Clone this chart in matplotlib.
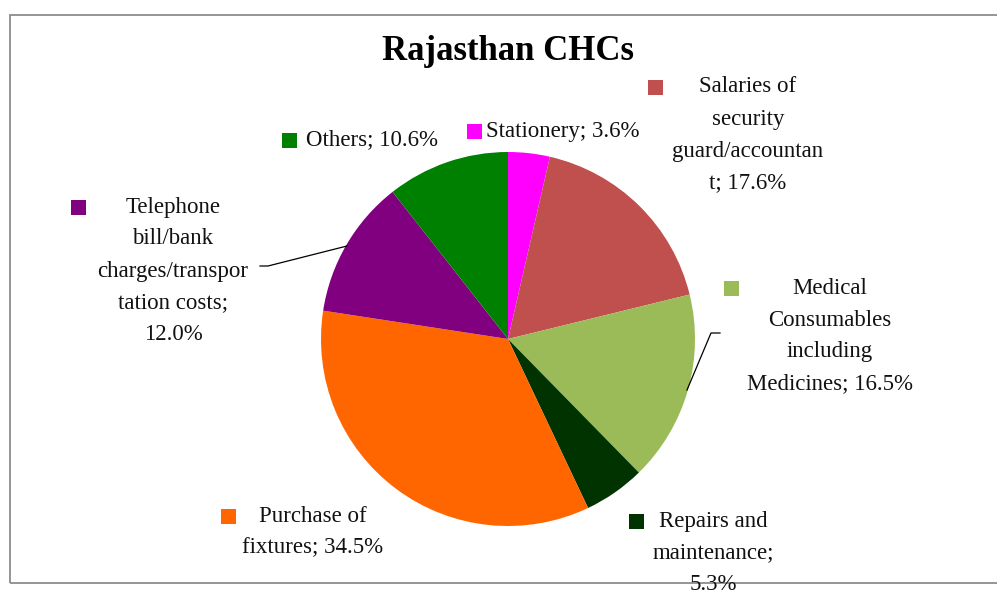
import matplotlib.pyplot as plt
from matplotlib.patches import Rectangle

categories = ["Stationery", "Salaries of security guard/accountant",
              "Medical Consumables including Medicines", "Repairs and maintenance",
              "Purchase of fixtures", "Telephone bill/bank charges/transportation costs",
              "Others"]
shares = [3.6, 17.6, 16.5, 5.3, 34.5, 12.0, 10.6]
colors = ["#FF00FF", "#C0504D", "#9BBB59", "#003300", "#FF6600", "#800080", "#008000"]

# label text as wrapped in the original, with pixel anchors (marker x, text centre x, first line y)
label_lines = [
    ["Stationery; 3.6%"],
    ["Salaries of", "security", "guard/accountan", "t; 17.6%"],
    ["Medical", "Consumables", "including", "Medicines; 16.5%"],
    ["Repairs and", "maintenance;", "5.3%"],
    ["Purchase of", "fixtures; 34.5%"],
    ["Telephone", "bill/bank", "charges/transpor", "tation costs;", "12.0%"],
    ["Others; 10.6%"],
]
label_pos = [(474, 563, 131), (655, 748, 87), (731, 830, 288), (636, 713, 521),
             (228, 313, 516), (78, 173, 207), (289, 372, 140)]

W, H = 997, 592
plt.rcParams['font.family'] = ['Liberation Serif', 'DejaVu Serif']

fig = plt.figure(figsize=(W / 100, H / 100), dpi=100)
ax = fig.add_axes([0, 0, 1, 1])

def Y(y):
    return H - y

ax.pie(shares, colors=colors, startangle=90, counterclock=False,
       center=(508, Y(339)), radius=187, wedgeprops=dict(linewidth=0),
       frame=True)
ax.set_xlim(0, W)
ax.set_ylim(0, H)
ax.set_aspect('equal')
ax.axis('off')

# chart border
ax.add_patch(Rectangle((10, Y(583)), W + 20, 568, fill=False,
                       edgecolor="#8c8c8c", linewidth=1.3, clip_on=False))

ax.text(508, Y(52), "Rajasthan CHCs", ha='center', va='center',
        fontsize=25, fontweight='bold')

for lines, (mx, tx, ty), c in zip(label_lines, label_pos, colors):
    ax.add_patch(Rectangle((mx - 7.5, Y(ty) - 7.5), 15, 15, color=c, linewidth=0))
    for i, s in enumerate(lines):
        ax.text(tx, Y(ty + i * 32), s, ha='center', va='center', fontsize=16.5,
                color='#111111')

# leader lines
ax.plot([687, 711, 720], [Y(390), Y(333), Y(333)], color='black', linewidth=0.9)
ax.plot([260, 268, 347], [Y(266), Y(266), Y(246)], color='black', linewidth=0.9)

fig.savefig("out.png", dpi=100)
